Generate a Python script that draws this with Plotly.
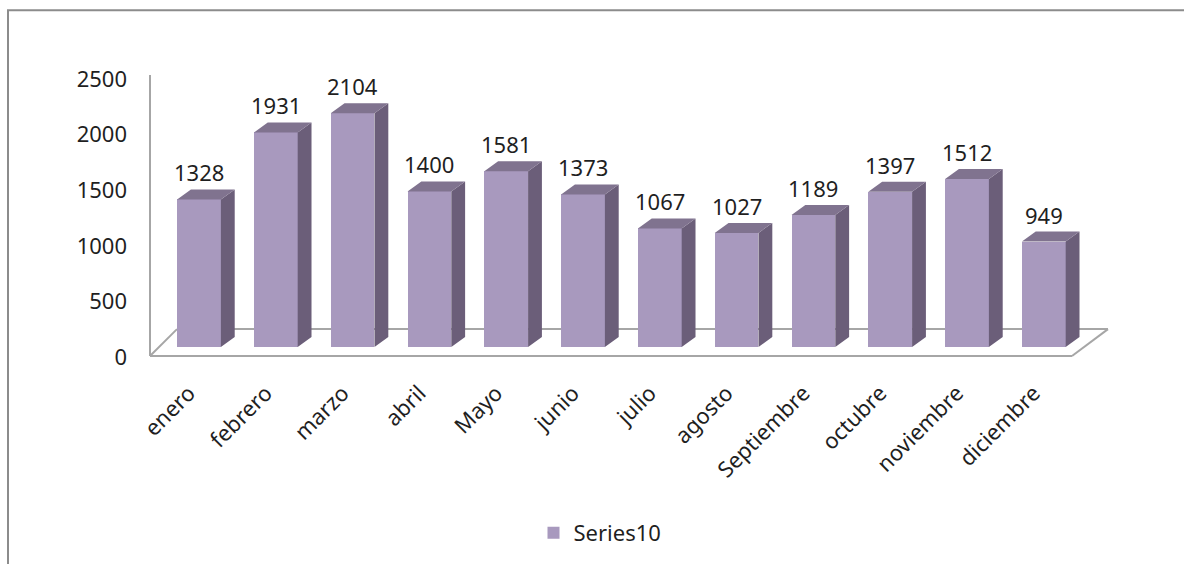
import plotly.graph_objects as go

months = ["enero", "febrero", "marzo", "abril", "Mayo", "junio", "julio",
          "agosto", "Septiembre", "octubre", "noviembre", "diciembre"]
visits = [1328, 1931, 2104, 1400, 1581, 1373, 1067, 1027, 1189, 1397, 1512, 949]
y_ticks = [0, 500, 1000, 1500, 2000, 2500]

FRONT = "#A899BE"
SIDE = "#6B5E79"
TOP = "#80738F"
EDGE = "#a6a6a6"
FONT = "Noto Sans"
TXT = "#1f1f1f"

# fake 3d: front width and depth offset in axis units
W = 0.57
DX = 0.18
DY = 90

# plot area in pixels: x 150..1110, y 60..360
def px(x):
    return (x - 150) / 960

def py(y):
    return (360 - y) / 300

x = list(range(len(months)))

side_x, side_y, top_x, top_y = [], [], [], []
for i, v in zip(x, visits):
    l, r = i - W / 2, i + W / 2
    side_x += [r, r + DX, r + DX, r, r, None]
    side_y += [0, DY, v + DY, v, 0, None]
    top_x += [l, l + DX, r + DX, r, l, None]
    top_y += [v, v + DY, v + DY, v, v, None]

fig = go.Figure()
fig.add_trace(go.Bar(x=x, y=visits, width=W, name="Series10",
                     marker=dict(color=FRONT, line=dict(width=0))))
fig.add_trace(go.Scatter(x=side_x, y=side_y, fill="toself", fillcolor=SIDE,
                         mode="lines", line=dict(width=0), showlegend=False,
                         hoverinfo="skip"))
fig.add_trace(go.Scatter(x=top_x, y=top_y, fill="toself", fillcolor=TOP,
                         mode="lines", line=dict(width=0), showlegend=False,
                         hoverinfo="skip"))

for i, v in zip(x, visits):
    fig.add_annotation(x=i, y=v, xref="x", yref="y", text=str(v), showarrow=False,
                       yshift=27, yanchor="middle", font=dict(size=22, color=TXT))

# floor / wall edges
lines = [
    (150, 75, 150, 357),
    (150, 357, 1072, 357),
    (177, 330, 1108, 330),
    (150, 357, 177, 330),
    (1072, 357, 1108, 330),
]
for x0, y0, x1, y1 in lines:
    fig.add_shape(type="line", xref="paper", yref="paper", layer="below",
                  x0=px(x0), y0=py(y0), x1=px(x1), y1=py(y1),
                  line=dict(color=EDGE, width=2))

# chart border
fig.add_shape(type="rect", xref="paper", yref="paper",
              x0=px(8), y0=py(620), x1=px(1230), y1=py(10),
              line=dict(color="#8c8c8c", width=2))

fig.update_layout(
    width=1184, height=564,
    margin=dict(l=150, r=74, t=60, b=204),
    paper_bgcolor="white", plot_bgcolor="rgba(0,0,0,0)",
    font=dict(family=FONT, size=22, color=TXT),
    bargap=0,
    showlegend=True,
    legend=dict(orientation="h", x=px(600), y=py(533), xanchor="center",
                yanchor="middle", font=dict(size=22)),
    xaxis=dict(range=[-0.638, 11.862], tickvals=x, ticktext=months, tickangle=-45,
               showgrid=False, zeroline=False, showline=False,
               ticklabelstandoff=16, ticklabelshift=-10),
    # ticks sit on the front edge of the floor, ~10px below the bar bases
    yaxis=dict(range=[-107.6, 2583], tickvals=y_ticks, showgrid=False,
               zeroline=False, showline=False, ticklabelstandoff=22,
               ticklabelshift=10),
)

fig.write_html("out.html", post_script="document.body.style.margin='0';",
               config={"displayModeBar": False})
